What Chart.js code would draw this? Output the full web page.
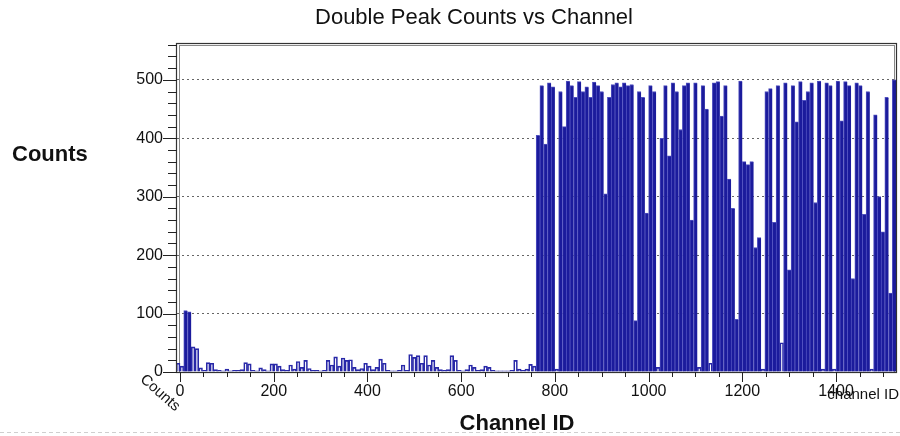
<!DOCTYPE html>
<html>
<head>
<meta charset="utf-8">
<title>Double Peak Counts vs Channel</title>
<script src="https://cdn.jsdelivr.net/npm/chart.js@4.4.1/dist/chart.umd.min.js"></script>
<style>
  html, body { margin: 0; padding: 0; background: #fff; }
  #wrap { width: 900px; height: 436px; }
</style>
</head>
<body>
<div id="wrap"><canvas id="chart" width="900" height="436"></canvas></div>
<script>
// histogram binning (channels per bin, first bin low edge)
const BIN_WIDTH = 8;
const FIRST_CHANNEL = -8;

// counts for channels -8 .. 760 (mostly empty)
const lowCounts = [
  15, 10, 105, 103, 43, 40, 7, 3, 16, 15,
  4, 3, 2, 5, 2, 3, 3, 4, 16, 14,
  3, 2, 7, 4, 2, 14, 14, 10, 4, 3,
  12, 5, 18, 8, 20, 6, 3, 3, 2, 3,
  20, 12, 26, 10, 24, 20, 21, 8, 4, 6,
  15, 10, 4, 8, 22, 15, 3, 2, 2, 3,
  12, 3, 30, 25, 28, 15, 28, 12, 20, 8,
  4, 3, 4, 28, 20, 3, 2, 4, 12, 8,
  3, 4, 10, 8, 3, 2, 2, 2, 2, 3,
  20, 5, 3, 5, 13, 10
];

// counts for channels 760 .. 1528 (saturated region)
const highCounts = [
  405, 490, 390, 495, 488, 5, 480, 420, 498, 490,
  470, 497, 480, 488, 470, 496, 490, 480, 305, 470,
  492, 495, 488, 495, 490, 492, 88, 480, 470, 272,
  490, 480, 8, 400, 490, 370, 495, 480, 415, 490,
  495, 260, 495, 8, 490, 450, 15, 495, 497, 438,
  490, 330, 280, 90, 498, 360, 355, 360, 213, 230,
  5, 480, 485, 256, 490, 50, 495, 175, 490, 428,
  497, 465, 480, 495, 290, 498, 5, 495, 490, 5,
  498, 430, 497, 490, 160, 495, 490, 270, 480, 5,
  440, 300, 240, 470, 135, 500
];

const xTickValues = [0, 200, 400, 600, 800, 1000, 1200, 1400];
const yTickValues = [0, 100, 200, 300, 400, 500];

const counts = lowCounts.concat(highCounts);
const points = counts.map((c, i) => ({ x: FIRST_CHANNEL + BIN_WIDTH * i + BIN_WIDTH / 2, y: c }));

const FONT = "'Liberation Sans', Arial, Helvetica, sans-serif";
const DARK = "#1b1b9c";

// frame, tick marks and the free-floating labels (ROOT style)
const decorPlugin = {
  id: "decor",
  beforeDatasetsDraw(chart) {
    const ctx = chart.ctx;
    const a = chart.chartArea;
    ctx.save();
    ctx.strokeStyle = "#888";
    ctx.lineWidth = 1;
    ctx.strokeRect(a.left + 2.5, a.top + 2.5, a.right - a.left - 5, a.bottom - a.top - 2);
    ctx.restore();
  },
  afterDraw(chart) {
    const ctx = chart.ctx;
    const a = chart.chartArea;
    const xs = chart.scales.x;
    const ys = chart.scales.y;
    ctx.save();

    // outer frame
    ctx.strokeStyle = "#333";
    ctx.lineWidth = 1.2;
    ctx.strokeRect(a.left - 0.5, a.top + 0.5, a.right - a.left, a.bottom - a.top);

    // y tick marks (outside, left)
    ctx.strokeStyle = "#222";
    ctx.lineWidth = 1;
    for (let v = 0; v <= 560; v += 20) {
      const y = Math.round(ys.getPixelForValue(v)) + 0.5;
      const len = v % 100 === 0 ? 14 : 9;
      ctx.beginPath();
      ctx.moveTo(a.left - len, y);
      ctx.lineTo(a.left, y);
      ctx.stroke();
    }
    // x tick marks (outside, below)
    for (let v = 0; v <= 1500; v += 50) {
      const x = Math.round(xs.getPixelForValue(v)) + 0.5;
      const len = v % 200 === 0 ? 10 : 5;
      ctx.beginPath();
      ctx.moveTo(x, a.bottom);
      ctx.lineTo(x, a.bottom + len);
      ctx.stroke();
    }

    ctx.fillStyle = "#111";
    // title
    ctx.font = "22px " + FONT;
    ctx.textAlign = "center";
    ctx.textBaseline = "middle";
    ctx.fillText("Double Peak Counts vs Channel", 474, 18);

    // axis titles
    ctx.font = "bold 22px " + FONT;
    ctx.textAlign = "left";
    ctx.fillText("Counts", 12, 155);
    ctx.textAlign = "center";
    ctx.fillText("Channel ID", 517, 424);

    // ROOT's own axis titles
    ctx.font = "15px " + FONT;
    ctx.textAlign = "right";
    ctx.fillText("channel ID", 899, 395);
    ctx.save();
    ctx.translate(160, 393);
    ctx.rotate(Math.PI * 0.23);
    ctx.textAlign = "center";
    ctx.fillText("Counts", 0, 0);
    ctx.restore();

    // dashed separator at page bottom
    ctx.strokeStyle = "#cfcfcf";
    ctx.setLineDash([4, 3]);
    ctx.beginPath();
    ctx.moveTo(0, 432.5);
    ctx.lineTo(900, 432.5);
    ctx.stroke();
    ctx.restore();
  }
};

const ctx = document.getElementById("chart").getContext("2d");
const chart = new Chart(ctx, {
  type: "bar",
  data: {
    datasets: [
      {
        label: "Counts",
        data: points,
        backgroundColor: (c) => (c.raw && c.raw.y > 60 ? DARK : "rgba(255,255,255,0)"),
        borderColor: (c) => (c.raw && c.raw.y > 60 ? "#5050c0" : "#2828a8"),
        borderWidth: (c) => (c.raw && c.raw.y > 60 ? { left: 1, top: 1, right: 0, bottom: 0 } : 1),
        barThickness: "flex",
        barPercentage: 1,
        categoryPercentage: 1,
      },
    ],
  },
  options: {
    responsive: false,
    animation: false,
    layout: { padding: { left: 0, right: 3, top: 43, bottom: 0 } },
    plugins: {
      legend: { display: false },
      tooltip: { enabled: false },
      title: { display: false },
    },
    scales: {
      x: {
        type: "linear",
        offset: false,
        min: -6.4,
        max: 1530,
        afterFit(scale) { scale.height = 64; },
        afterBuildTicks(scale) { scale.ticks = xTickValues.map((v) => ({ value: v })); },
        grid: { display: false, drawTicks: false, offset: false },
        border: { display: false },
        ticks: { padding: 10, color: "#111", font: { family: FONT, size: 16 }, callback: (v) => String(v) },
      },
      y: {
        min: 0,
        max: 563,
        afterFit(scale) { scale.width = 177; },
        afterBuildTicks(scale) { scale.ticks = yTickValues.map((v) => ({ value: v })); },
        grid: {
          drawTicks: false,
          color: (c) => (c.tick && c.tick.value === 0 ? "rgba(0,0,0,0)" : "#666"),
          lineWidth: 1,
        },
        border: { display: false, dash: [2, 3] },
        ticks: { padding: 14, color: "#111", font: { family: FONT, size: 16 } },
      },
    },
  },
  plugins: [decorPlugin],
});
</script>
</body>
</html>
